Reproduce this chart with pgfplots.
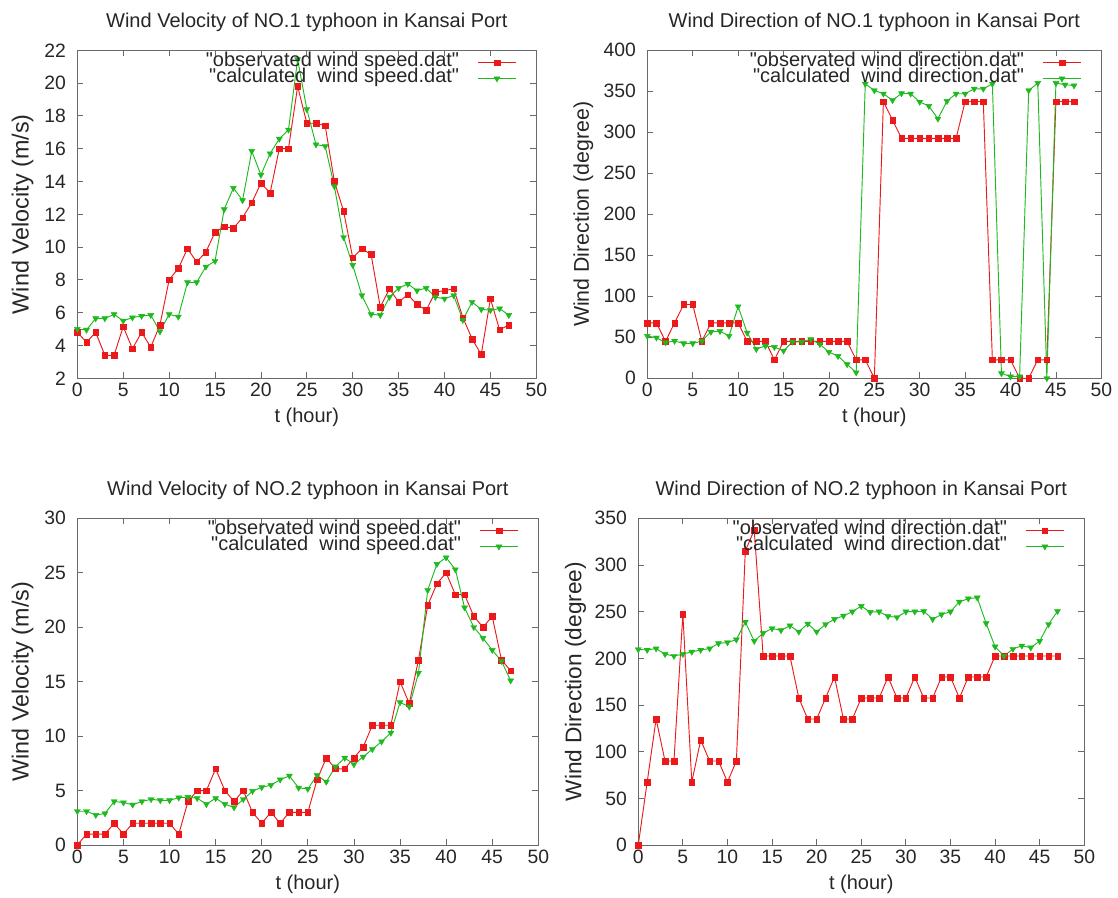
\documentclass[border=0pt]{standalone}
\usepackage{pgfplots}
\pgfplotsset{compat=1.18}
\usepackage{fontspec}
\setmainfont{Liberation Sans}[Ligatures=TeXOff]
\definecolor{obsred}{RGB}{235,25,25}
\definecolor{calgreen}{RGB}{30,185,30}
\definecolor{axgray}{RGB}{105,105,105}

\pgfplotsset{
  gp/.style={
    scale only axis,
    clip=false,
    xmin=0, xmax=50, xtick distance=5,
    axis line style={axgray, line width=0.7pt},
    every tick/.style={axgray, line width=0.6pt},
    major tick length=4.5pt,
    tick align=inside,
    /pgf/number format/assume math mode=true,
    tick label style={font=\fontsize{14.5}{14.5}\selectfont, text=black!85},
    yticklabel style={xshift=-5pt},
    title style={font=\fontsize{15}{15}\selectfont, text=black!85, at={(axis description cs:0.5,1)}, anchor=base, yshift=11pt},
    xlabel={t (hour)},
    xlabel style={font=\fontsize{15}{15}\selectfont, text=black!85, at={(axis description cs:0.5,0)}, anchor=base, yshift=-33pt},
    legend style={draw=none, fill=none, at={(axis description cs:1,1)}, anchor=north east, xshift=-12pt, yshift=-1pt,
      font=\fontsize{15}{12}\selectfont, text=black!85, row sep=0pt, column sep=14pt,
      nodes={inner sep=0pt, text height=9pt, text depth=3pt}},
    legend cell align=right,
    legend plot pos=right,
    legend image code/.code={\draw[mark repeat=2,mark phase=2,##1] plot coordinates {(0pt,0pt) (14pt,0pt) (28pt,0pt)};},
  },
  obs/.style={color=obsred, line width=0.7pt, mark=square*, mark size=2.1pt, mark options={fill=obsred, draw=obsred, line width=0.3pt}},
  cal/.style={color=calgreen, line width=0.7pt, mark=triangle*, mark size=2.6pt, mark options={rotate=180, fill=calgreen, draw=calgreen, line width=0.3pt}},
}

\pgfplotstableread{
t obs cal
0 4.8 5.0
1 4.2 4.95
2 4.8 5.65
3 3.4 5.65
4 3.4 5.9
5 5.15 5.5
6 3.8 5.7
7 4.8 5.8
8 3.9 5.85
9 5.25 4.85
10 8.0 5.9
11 8.7 5.75
12 9.9 7.85
13 9.1 7.85
14 9.7 8.8
15 10.9 9.15
16 11.25 12.3
17 11.15 13.6
18 11.8 12.85
19 12.7 15.85
20 13.9 14.4
21 13.3 15.7
22 16.0 16.6
23 16.0 17.15
24 19.8 21.45
25 17.55 18.4
26 17.55 16.25
27 17.4 16.15
28 14.0 13.7
29 12.2 10.6
30 9.35 8.9
31 9.9 7.05
32 9.55 5.9
33 6.35 5.85
34 7.45 6.95
35 6.65 7.5
36 7.1 7.75
37 6.5 7.35
38 6.15 7.5
39 7.25 6.95
40 7.35 6.85
41 7.45 7.05
42 5.7 5.55
43 4.4 6.65
44 3.45 6.2
45 6.85 6.15
46 4.95 6.25
47 5.25 5.85
}\speedA

\pgfplotstableread{
t obs cal
0 67.5 51.5
1 67.5 49.5
2 45 43.5
3 67.5 45.5
4 90 42.5
5 90 42.5
6 45 45.5
7 67.5 56.5
8 67.5 57.5
9 67.5 51.5
10 67.5 87.5
11 45 55.5
12 45 35.5
13 45 39.5
14 22.5 38
15 45 33.5
16 45 44.5
17 45 44.5
18 45 47.5
19 45 41.5
20 45 32
21 45 27
22 45 17
23 22.5 7
24 22.5 359
25 0 351
26 337.5 347
27 315 339
28 292.5 347.5
29 292.5 347
30 292.5 337
31 292.5 332
32 292.5 316.5
33 292.5 338
34 292.5 347
35 337.5 347
36 337.5 353
37 337.5 353
38 22.5 359
39 22.5 6
40 22.5 2
41 0 2
42 0 351
43 22.5 360
44 22.5 0
45 337.5 360
46 337.5 358
47 337.5 357
}\dirA

\pgfplotstableread{
t obs cal
0 0 3.1
1 1 3.1
2 1 2.75
3 1 2.9
4 2 4.0
5 1 3.9
6 2 3.7
7 2 4.0
8 2 4.2
9 2 4.1
10 2 4.1
11 1 4.35
12 4 4.4
13 5 4.3
14 5 3.75
15 7 4.3
16 5 3.75
17 4 3.45
18 5 4.2
19 3 4.95
20 2 5.3
21 3 5.5
22 2 6.0
23 3 6.35
24 3 5.25
25 3 5.15
26 6 6.4
27 8 5.8
28 7 7.2
29 7 8.0
30 8 7.4
31 9 8.1
32 11 8.8
33 11 9.5
34 11 10.3
35 15 13.1
36 13 12.7
37 17 15.8
38 22 23.4
39 24 25.8
40 25 26.4
41 23 25.3
42 23 21.8
43 21 20.0
44 20 19.0
45 21 17.9
46 17 16.9
47 16 15.1
}\speedB

\pgfplotstableread{
t obs cal
0 0 209.5
1 67.5 209
2 135 210.5
3 90 204.5
4 90 202.5
5 247.5 204.5
6 67.5 207
7 112.5 209
8 90 210.5
9 90 216
10 67.5 217
11 90 220
12 315 239
13 337.5 218.5
14 202.5 227
15 202.5 232
16 202.5 230
17 202.5 235
18 157.5 228.5
19 135 237
20 135 228.5
21 157.5 236.5
22 180 242
23 135 245.5
24 135 250
25 157.5 256
26 157.5 249.5
27 157.5 250
28 180 245
29 157.5 244
30 157.5 250
31 180 250
32 157.5 250.5
33 157.5 242
34 180 247
35 180 250
36 157.5 260.5
37 180 264
38 180 265
39 180 237.5
40 202.5 212.5
41 202.5 202.5
42 202.5 210
43 202.5 213.5
44 202.5 211.5
45 202.5 218.5
46 202.5 236.5
47 202.5 250.5
}\dirB

\begin{document}
\begin{tikzpicture}
\useasboundingbox (0pt,0pt) rectangle (838.5pt,-672.75pt);

% top left
\begin{axis}[gp, at={(58pt,-283.7pt)}, anchor=south west,
  width=344.25pt, height=246pt,
  ymin=2, ymax=22, ytick distance=2,
  title={Wind Velocity of NO.1 typhoon in Kansai Port},
  ylabel={Wind Velocity (m/s)},
  ylabel style={font=\fontsize{17.5}{17.5}\selectfont, text=black!85, at={([xshift=-41pt]axis description cs:0,0.5)}, anchor=center}]
\addplot[obs] table[x=t, y=obs] {\speedA};
\addlegendentry{"observated wind speed.dat"}
\addplot[cal] table[x=t, y=cal] {\speedA};
\addlegendentry{"calculated\ \ wind speed.dat"}
\end{axis}

% top right
\begin{axis}[gp, at={(485.5pt,-283.7pt)}, anchor=south west,
  width=340.5pt, height=246pt,
  ymin=0, ymax=400, ytick distance=50,
  title={Wind Direction of NO.1 typhoon in Kansai Port},
  ylabel={Wind Direction (degree)},
  ylabel style={font=\fontsize{16}{16}\selectfont, text=black!85, at={([xshift=-48pt]axis description cs:0,0.5)}, anchor=center}]
\addplot[obs] table[x=t, y=obs] {\dirA};
\addlegendentry{"observated wind direction.dat"}
\addplot[cal] table[x=t, y=cal] {\dirA};
\addlegendentry{"calculated\ \ wind direction.dat"}
\end{axis}

% bottom left
\begin{axis}[gp, at={(58pt,-633.75pt)}, anchor=south west,
  width=345.75pt, height=245pt,
  ymin=0, ymax=30, ytick distance=5,
  title={Wind Velocity of NO.2 typhoon in Kansai Port},
  ylabel={Wind Velocity (m/s)},
  ylabel style={font=\fontsize{17.5}{17.5}\selectfont, text=black!85, at={([xshift=-41pt]axis description cs:0,0.5)}, anchor=center}]
\addplot[obs] table[x=t, y=obs] {\speedB};
\addlegendentry{"observated wind speed.dat"}
\addplot[cal] table[x=t, y=cal] {\speedB};
\addlegendentry{"calculated\ \ wind speed.dat"}
\end{axis}

% bottom right
\begin{axis}[gp, at={(478.7pt,-633.75pt)}, anchor=south west,
  width=334.5pt, height=245pt,
  ymin=0, ymax=350, ytick distance=50,
  title={Wind Direction of NO.2 typhoon in Kansai Port},
  ylabel={Wind Direction (degree)},
  ylabel style={font=\fontsize{17}{17}\selectfont, text=black!85, at={([xshift=-47pt]axis description cs:0,0.5)}, anchor=center}]
\addplot[obs] table[x=t, y=obs] {\dirB};
\addlegendentry{"observated wind direction.dat"}
\addplot[cal] table[x=t, y=cal] {\dirB};
\addlegendentry{"calculated\ \ wind direction.dat"}
\end{axis}
\end{tikzpicture}
\end{document}
